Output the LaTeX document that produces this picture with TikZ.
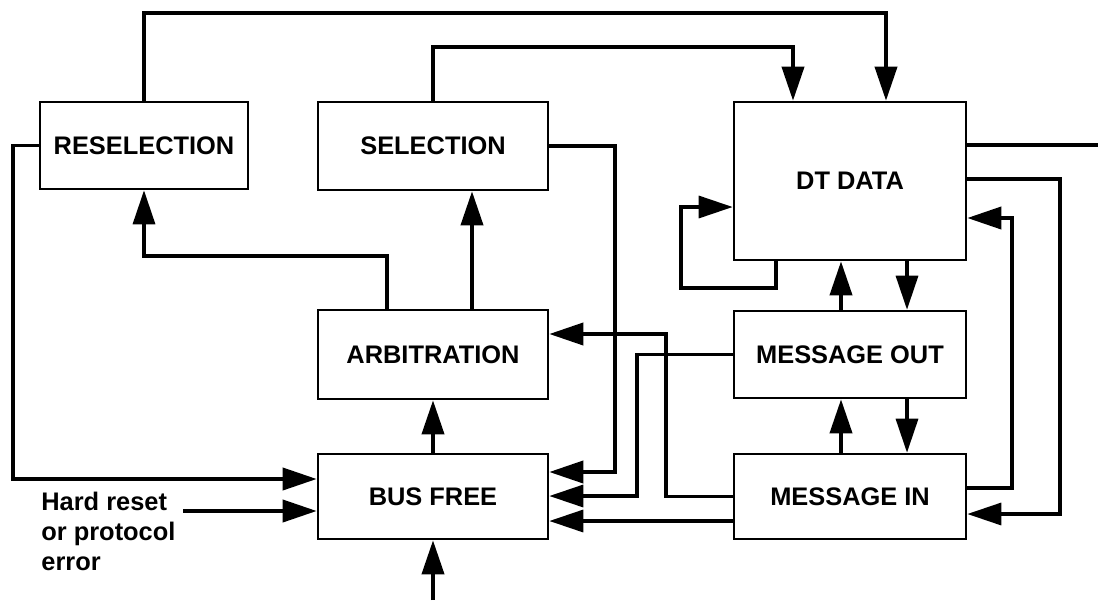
\documentclass[tikz,border=0pt]{standalone}
\usepackage{fontspec}
\setmainfont{Liberation Sans}
\usetikzlibrary{arrows.meta}

\begin{document}
\begin{tikzpicture}[
 x=.5pt,y=-.5pt,font=\fontsize{12.7}{15}\selectfont\bfseries,
 line join=miter,
 box/.style={draw=black,line width=1.3pt,fill=white,inner sep=0pt,align=center},
 conn/.style={draw=black,line width=1.9pt},
 thin conn/.style={conn,line width=1.65pt},
 wire/.style={conn,-{Triangle[length=17pt,width=11pt]}}]
\path[use as bounding box] (0,0) rectangle (1098,600);

% states
\node[box,minimum width=104pt,minimum height=43.5pt] (resel) at (144,145.5) {RESELECTION};
\node[box,minimum width=115pt,minimum height=44pt] (sel) at (433,146) {SELECTION};
\node[box,minimum width=116pt,minimum height=79pt] (dtdata) at (850,181) {DT DATA};
\node[box,minimum width=115pt,minimum height=44.5pt] (arb) at (433,354.5) {ARBITRATION};
\node[box,minimum width=115pt,minimum height=42.5pt] (busfree) at (433,496.5) {BUS FREE};
\node[box,minimum width=116pt,minimum height=43.5pt] (msgout) at (850,354.5) {MESSAGE OUT};
\node[box,minimum width=116pt,minimum height=42.5pt] (msgin) at (850,496.5) {MESSAGE IN};
\node[anchor=west,align=left,inner sep=0pt] (reset) at (41,531)
  {Hard reset\\or protocol\\error};
\coordinate (resetout) at (183,511);
\coordinate (busin) at (433,600);
\coordinate (dtout) at (1098,145);

% top routes into DT DATA
\draw[wire] (resel.north) |- (886,13) -- (dtdata.north -| 886,0);
\draw[wire] (sel.north) |- (793,47) -- (dtdata.north -| 793,0);

% into BUS FREE
\draw[wire] (resel.west) -| (13,300) |- (busfree.west |- 0,479);
\draw[wire] (resetout) -- (busfree.west |- resetout);
\draw[wire] (busin) -- (busfree.south);
\draw[wire] (sel.east) -| (615,472) -- (busfree.east |- 0,472);
\draw[wire,thin conn] (msgout.west) -| (637,496) -- (busfree.east |- 0,496);
\draw[wire,thin conn] (msgin.west |- 0,521) -- (busfree.east |- 0,521);

% out of BUS FREE and ARBITRATION
\draw[wire] (busfree.north) -- (arb.south);
\draw[wire] (arb.north -| 472,0) -- (sel.south -| 472,0);
\draw[wire,thin conn] (arb.north -| 387,0) -- (387,256) -| (resel.south);
\draw[wire] (msgin.west) -| (666,334) -- (arb.east |- 0,334);

% right column
\draw[conn] (dtdata.east |- dtout) -- (dtout);
\draw[wire,thin conn] (dtdata.east |- 0,179) -| (1060,514) -- (msgin.east |- 0,514);
\draw[wire] (msgin.east |- 0,488) -| (1012,218) -- (dtdata.east |- 0,218);
\draw[wire,thin conn] (dtdata.south -| 776,0) -- (776,288) -| (681,207) -- (dtdata.west |- 0,207);
\draw[wire] (msgout.north -| 841,0) -- (dtdata.south -| 841,0);
\draw[wire,thin conn] (dtdata.south -| 907,0) -- (msgout.north -| 907,0);
\draw[wire] (msgin.north -| 841,0) -- (msgout.south -| 841,0);
\draw[wire,thin conn] (msgout.south -| 907,0) -- (msgin.north -| 907,0);
\end{tikzpicture}
\end{document}
